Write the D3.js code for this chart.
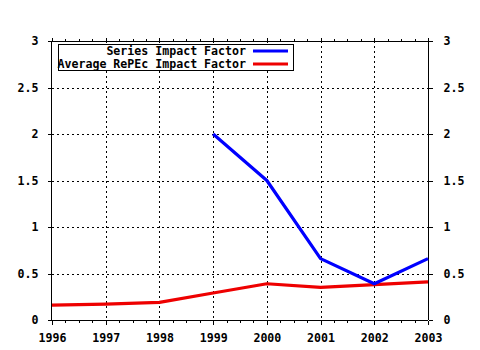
<!DOCTYPE html>
<html>
<head>
<meta charset="utf-8">
<script src="https://cdn.jsdelivr.net/npm/d3@7"></script>
<style>
  html, body { margin: 0; padding: 0; background: #fff; }
  text { font-family: "DejaVu Sans Mono", monospace; font-weight: bold; font-size: 11.6px; fill: #000; }
</style>
</head>
<body>
<svg id="chart" width="480" height="350"></svg>
<script>
// Impact factor by year
const years = [1996, 1997, 1998, 1999, 2000, 2001, 2002, 2003];
const seriesIF = [null, null, null, 2.0, 1.5, 0.66, 0.39, 0.66];
const averageIF = [0.16, 0.17, 0.19, 0.29, 0.39, 0.35, 0.38, 0.41];
const yTicks = [0, 0.5, 1, 1.5, 2, 2.5, 3];
const seriesNames = ["Series Impact Factor", "Average RePEc Impact Factor"];
const seriesColors = ["#0000ff", "#ee0000"];

const svg = d3.select("#chart");
const m = { left: 52, right: 428, top: 41, bottom: 320 };

const x = d3.scaleLinear().domain([1996, 2003]).range([m.left, m.right]);
const y = d3.scaleLinear().domain([0, 3]).range([m.bottom, m.top]);

// dotted grid
const grid = svg.append("g").attr("stroke", "#000").attr("stroke-width", 1)
  .attr("stroke-dasharray", "2,3").attr("shape-rendering", "crispEdges");
grid.selectAll(".vg").data(years.slice(1, -1)).join("line")
  .attr("x1", d => Math.round(x(d)) + 0.5).attr("x2", d => Math.round(x(d)) + 0.5)
  .attr("y1", m.top).attr("y2", m.bottom);
grid.selectAll(".hg").data(yTicks.slice(1, -1)).join("line")
  .attr("y1", d => Math.round(y(d)) + 0.5).attr("y2", d => Math.round(y(d)) + 0.5)
  .attr("x1", m.left).attr("x2", m.right);

// minor x ticks (quarters)
const minor = [];
for (let i = 0; i < years.length - 1; i++) for (let k = 1; k < 4; k++) minor.push(years[i] + k / 4);

// axes
const fmtY = d => d3.format("")(d);
const axBottom = d3.axisBottom(x).tickValues(years).tickFormat(d3.format("d")).tickSize(4).tickPadding(9);
const axTop = d3.axisTop(x).tickValues(years).tickFormat("").tickSize(4);
const axLeft = d3.axisLeft(y).tickValues(yTicks).tickFormat(fmtY).tickSize(4).tickPadding(9);
const axRight = d3.axisRight(y).tickValues(yTicks).tickFormat(fmtY).tickSize(4).tickPadding(11);

function styleAxis(g) {
  g.select(".domain").attr("stroke", "#000").attr("stroke-width", 1);
  g.selectAll(".tick line").attr("stroke", "#000");
  g.selectAll("text").attr("font-family", null).attr("font-size", null).style("fill", "#000");
  g.attr("font-family", null).attr("font-size", null).attr("shape-rendering", "crispEdges");
}
svg.append("g").attr("transform", `translate(0,${m.bottom + 0.5})`).call(axBottom).call(styleAxis)
  .call(g => g.select(".domain").attr("d", `M${m.left},0H${m.right}`));
svg.append("g").attr("transform", `translate(0,${m.top + 0.5})`).call(axTop).call(styleAxis)
  .call(g => g.select(".domain").attr("d", `M${m.left},0H${m.right}`));
svg.append("g").attr("transform", `translate(${m.left - 0.5},0)`).call(axLeft).call(styleAxis)
  .call(g => g.select(".domain").attr("d", `M0,${m.top}V${m.bottom}`));
svg.append("g").attr("transform", `translate(${m.right + 0.5},0)`).call(axRight).call(styleAxis)
  .call(g => g.select(".domain").attr("d", `M0,${m.top}V${m.bottom}`));

const minorG = svg.append("g").attr("stroke", "#000").attr("shape-rendering", "crispEdges");
minorG.selectAll(".mb").data(minor).join("line")
  .attr("x1", d => Math.round(x(d)) + 0.5).attr("x2", d => Math.round(x(d)) + 0.5)
  .attr("y1", m.bottom).attr("y2", m.bottom + 3);
minorG.selectAll(".mt").data(minor).join("line")
  .attr("x1", d => Math.round(x(d)) + 0.5).attr("x2", d => Math.round(x(d)) + 0.5)
  .attr("y1", m.top + 1).attr("y2", m.top - 2);

// series lines
const line = d3.line().defined(d => d.v != null).x(d => x(d.year)).y(d => y(d.v));
[averageIF, seriesIF].forEach((vals, i) => {
  const color = i === 0 ? seriesColors[1] : seriesColors[0];
  svg.append("path")
    .datum(years.map((yr, j) => ({ year: yr, v: vals[j] })))
    .attr("fill", "none").attr("stroke", color).attr("stroke-width", 3.2)
    .attr("stroke-linejoin", "round")
    .attr("d", line);
});

// legend
const lg = svg.append("g");
lg.append("rect").attr("x", 58.5).attr("y", 44.5).attr("width", 235).attr("height", 26)
  .attr("fill", "#fff").attr("stroke", "#000").attr("shape-rendering", "crispEdges");
seriesNames.forEach((name, i) => {
  const cy = 51 + i * 13;
  lg.append("text").attr("x", 246).attr("y", cy).attr("text-anchor", "end")
    .attr("dominant-baseline", "middle").text(name);
  lg.append("line").attr("x1", 253).attr("x2", 288).attr("y1", cy).attr("y2", cy)
    .attr("stroke", seriesColors[i]).attr("stroke-width", 3);
});
</script>
</body>
</html>
